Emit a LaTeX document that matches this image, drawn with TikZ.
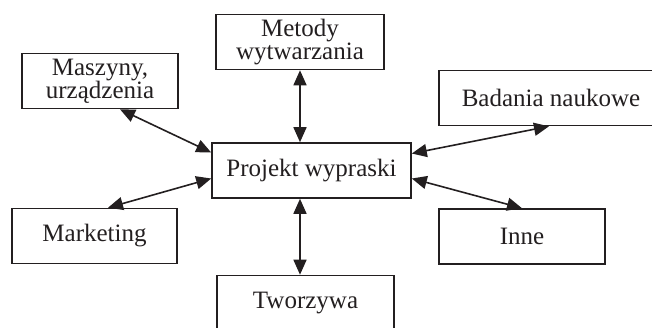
\documentclass[tikz,border=0pt]{standalone}
\usepackage{fontspec}
\setmainfont{Liberation Serif}
\usepackage{xcolor}
\usepackage{tikz}
\usetikzlibrary{positioning, arrows.meta}
\definecolor{bInk}{HTML}{231F20}

\begin{document}
\begin{tikzpicture}[x=1pt, y=-1pt, >={Triangle[length=15pt,width=13pt]}]
  \useasboundingbox (0,0) rectangle (652,327);
  \clip (0,0) rectangle (652,327);
  \tikzset{fbox/.style={draw=bInk, line width=1.6pt, fill=white, text=bInk, align=center,
    font=\fontsize{25}{23}\selectfont, inner sep=0pt, minimum height=55pt}}
  \node[fbox, minimum width=199pt] (p) at (311.5,170.5) {Projekt wypraski};
  \node[fbox, minimum width=168pt] (m) at (300,42) {Metody\\wytwarzania};
  \node[fbox, minimum width=156pt] (s) at (100,81) {Maszyny,\\urządzenia};
  \node[fbox, minimum width=224pt] (b) at (551,98) {Badania naukowe};
  \node[fbox, minimum width=165pt] (k) at (94.5,236) {Marketing};
  \node[fbox, minimum width=166pt] (i) at (522,236.5) {Inne};
  \node[fbox, minimum width=177pt] (t) at (305.5,303) {Tworzywa};
  \draw[<->, line width=1.6pt, bInk] (m.south) -- (m.south |- p.north);
  \draw[<->, line width=1.6pt, bInk] (m.south |- p.south) -- (m.south |- t.north);
  \draw[<->, line width=1.6pt, bInk] ([xshift=20pt]s.south) -- ([yshift=18pt]p.west);
  \draw[<->, line width=1.6pt, bInk] ([yshift=17pt]p.east) -- ([xshift=-2pt]b.south);
  \draw[<->, line width=1.6pt, bInk] ([yshift=-8pt]p.west) -- ([xshift=13.5pt]k.north);
  \draw[<->, line width=1.6pt, bInk] ([yshift=-8pt]p.east) -- (i.north);
\end{tikzpicture}
\end{document}
